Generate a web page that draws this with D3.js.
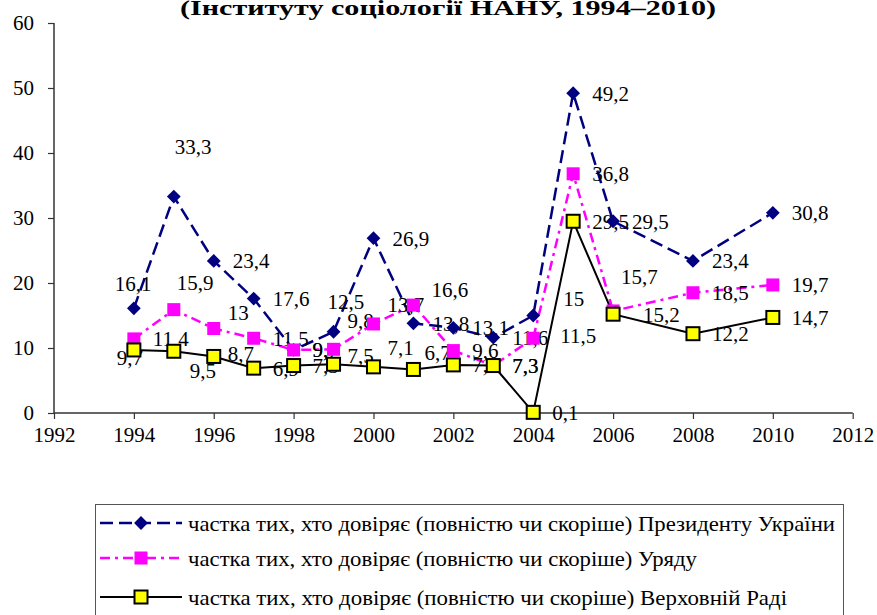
<!DOCTYPE html>
<meta charset="utf-8">
<script src="https://d3js.org/d3.v7.min.js"></script>
<style>
  body { margin: 0; background: #fff; }
</style>
<svg id="chart" width="877" height="615"></svg>
<script>

  // data
  var years = [1994, 1995, 1996, 1997, 1998, 1999, 2000, 2001, 2002, 2003, 2004, 2005, 2006, 2008, 2010];
  var president = [16.1, 33.3, 23.4, 17.6, 9.7, 12.5, 26.9, 13.8, 13.1, 11.6, 15, 49.2, 29.5, 23.4, 30.8];
  var government = [11.4, 15.9, 13, 11.5, 9.7, 9.8, 13.7, 16.6, 9.6, 7.3, 11.5, 36.8, 15.7, 18.5, 19.7];
  var rada = [9.7, 9.5, 8.7, 6.9, 7.3, 7.5, 7.1, 6.7, 7.4, 7.3, 0.1, 29.5, 15.2, 12.2, 14.7];
  var xTicks = [1992, 1994, 1996, 1998, 2000, 2002, 2004, 2006, 2008, 2010, 2012];
  var yTicks = [0, 10, 20, 30, 40, 50, 60];
  var seriesNames = [
    "частка тих, хто довіряє (повністю чи скоріше) Президенту України",
    "частка тих, хто довіряє (повністю чи скоріше) Уряду",
    "частка тих, хто довіряє (повністю чи скоріше) Верховній Раді"
  ];
  var title = "(Інституту соціології НАНУ, 1994–2010)";

  // hand-placed data labels (pixel nudges from the point), default is to the right
  var nudges = [
    {1994: [-19, -25], 1995: [1, -50], 1999: [-6, -30], 2004: [30, -17]},
    {1995: [3, -27], 1996: [14, -16], 1999: [14, -29], 2000: [14, -19], 2001: [18, -15], 2004: [27, -3], 2006: [8, -34]},
    {1994: [-17, 8], 1995: [16, 19], 1996: [14, -3], 1999: [14, -9], 2000: [14, -19], 2001: [11, -17], 2006: [30, 0]}
  ];
  // legend text is condensed in the original
  var legendWidths = [647, 509, 599];

  var FONT = "'Liberation Serif'";

  var svg = d3.select("#chart");

  var x = d3.scaleLinear().domain([1992, 2012]).range([54, 852.7]);
  var y = d3.scaleLinear().domain([0, 60]).range([413, 23]);

  // title (top line is cut off in the original)
  svg.append("text")
          .attr("x", 180).attr("y", 15)
          .attr("font-size", 21).attr("font-weight", "bold")
          .style("font-family", FONT)
          .attr("textLength", 536).attr("lengthAdjust", "spacingAndGlyphs")
          .text(title);

  // axes
  var xAxis = svg.append("g")
          .attr("transform", "translate(0," + y(0) + ")")
          .call(d3.axisBottom(x).tickValues(xTicks).tickFormat(d3.format("d")).tickSize(6).tickPadding(8));
  var yAxis = svg.append("g")
          .attr("transform", "translate(" + x(1992) + ",0)")
          .call(d3.axisLeft(y).tickValues(yTicks).tickSize(6).tickPadding(14));
  [xAxis, yAxis].forEach(function (a) {
    a.attr("font-family", null);
    a.select(".domain").attr("stroke", "#333").attr("stroke-width", 1.5);
    a.selectAll(".tick line").attr("stroke", "#333").attr("stroke-width", 1.2);
    a.selectAll(".tick text").attr("font-size", 21).attr("fill", "#000")
            .style("font-family", FONT);
  });
  xAxis.select(".domain").attr("d", "M" + x(1992) + ",0H" + x(2012));
  yAxis.select(".domain").attr("d", "M0," + y(60) + "V" + y(0));

  var series = [
    {values: president, color: "#000080", width: 2.5, dash: "13,6", marker: "diamond"},
    {values: government, color: "#ff00ff", width: 2.5, dash: "10,5,3,5", marker: "pink"},
    {values: rada, color: "#000000", width: 2, dash: null, marker: "yellow"}
  ];

  var line = d3.line().x(function (d) { return x(d[0]); }).y(function (d) { return y(d[1]); });

  function drawMarker(g, kind) {
    if (kind === "diamond") {
      g.append("path").attr("d", d3.symbol(d3.symbolSquare, 95)())
              .attr("transform", "rotate(45)").attr("fill", "#000080");
    } else if (kind === "pink") {
      g.append("rect").attr("x", -6.5).attr("y", -6.5).attr("width", 13).attr("height", 13)
              .attr("fill", "#ff00ff");
    } else {
      g.append("rect").attr("x", -6.5).attr("y", -6.5).attr("width", 13).attr("height", 13)
              .attr("fill", "#ffff00").attr("stroke", "#000").attr("stroke-width", 2);
    }
  }

  // lines
  series.forEach(function (s) {
    var pts = years.map(function (yr, i) { return [yr, s.values[i]]; });
    svg.append("path").datum(pts)
            .attr("d", line).attr("fill", "none")
            .attr("stroke", s.color).attr("stroke-width", s.width)
            .attr("stroke-dasharray", s.dash);
  });

  // data labels
  series.forEach(function (s, si) {
    svg.append("g").selectAll("text")
            .data(years.map(function (yr, i) { return [yr, s.values[i]]; }))
            .enter().append("text")
            .attr("x", function (d) { var n = nudges[si][d[0]] || [19, 0]; return x(d[0]) + n[0]; })
            .attr("y", function (d) { var n = nudges[si][d[0]] || [19, 0]; return y(d[1]) + n[1]; })
            .attr("dy", "0.35em")
            .attr("font-size", 21)
            .style("font-family", FONT)
            .text(function (d) { return String(d[1]).replace(".", ","); });
  });

  // markers
  series.forEach(function (s) {
    svg.append("g").selectAll("g")
            .data(years.map(function (yr, i) { return [yr, s.values[i]]; }))
            .enter().append("g")
            .attr("transform", function (d) { return "translate(" + x(d[0]) + "," + y(d[1]) + ")"; })
            .each(function () { drawMarker(d3.select(this), s.marker); });
  });

  // legend
  var legend = svg.append("g");
  legend.append("rect").attr("x", 95.5).attr("y", 504.5).attr("width", 748).attr("height", 130)
          .attr("fill", "#fff").attr("stroke", "#555").attr("stroke-width", 1);
  var rowY = [523, 558, 597];
  series.forEach(function (s, i) {
    legend.append("line").attr("x1", 100).attr("x2", 182).attr("y1", rowY[i]).attr("y2", rowY[i])
            .attr("stroke", s.color).attr("stroke-width", s.width).attr("stroke-dasharray", s.dash);
    drawMarker(legend.append("g").attr("transform", "translate(141," + rowY[i] + ")"), s.marker);
    legend.append("text").attr("x", 188).attr("y", rowY[i]).attr("dy", "0.35em")
            .attr("font-size", 22).style("font-family", FONT)
            .attr("textLength", legendWidths[i]).attr("lengthAdjust", "spacingAndGlyphs")
            .text(seriesNames[i]);
  });

</script>
